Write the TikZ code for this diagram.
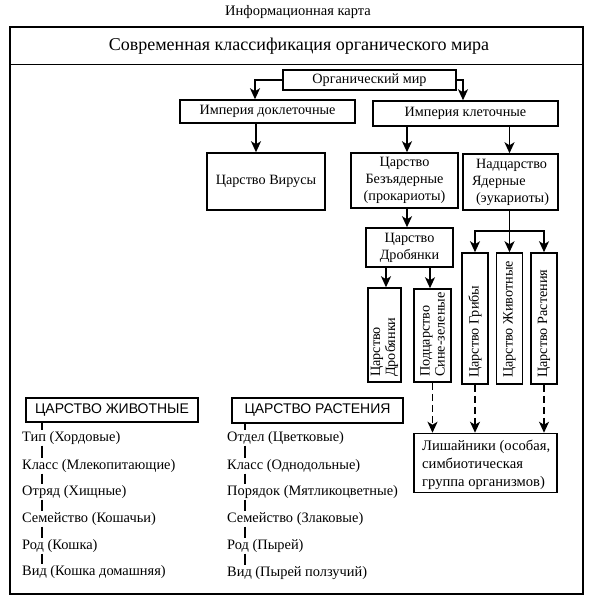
\documentclass[tikz,border=0pt]{standalone}
\usepackage{fontspec}
\setmainfont{Liberation Serif}
\newfontfamily\capsans{Liberation Sans}
\usetikzlibrary{arrows.meta,calc}
\begin{document}
\begin{tikzpicture}[x=1pt,y=-1pt,
  lw/.style={line width=1.5pt},
  box/.style={draw,lw,inner sep=0pt,align=center,font=\fontsize{14.2}{17}\selectfont},
  arr/.style={lw,-{Stealth[length=11pt,width=10pt,inset=3pt]}},
  dsh/.style={lw,dash pattern=on 7pt off 4pt,-{Stealth[length=11pt,width=10pt,inset=3pt]}},
  vtext/.style={rotate=90,anchor=west,inner sep=0pt,align=left,font=\fontsize{14.2}{15}\selectfont},
  item/.style={anchor=west,inner sep=1pt,font=\fontsize{14.4}{15}\selectfont},
  capbox/.style={draw,lw,inner sep=0pt,font=\capsans\fontsize{14}{15}\selectfont}]
\useasboundingbox (0,0) rectangle (596,604);

% title and frame
\node[font=\fontsize{14.5}{16}\selectfont] (title) at (298,12) {Информационная карта};
\draw[lw] (10,27) rectangle (583,594);
\draw[lw] (10,64.5) -- (583,64.5);
\node[font=\fontsize{18}{20}\selectfont] (hdr) at (299,46) {Современная классификация органического мира};

% boxes
\node[box,minimum width=173pt,minimum height=20pt] (org) at (369.5,80) {Органический мир};
\node[box,minimum width=175pt,minimum height=23pt] (dokl) at (267.5,111.5) {Империя доклеточные};
\node[box,minimum width=185pt,minimum height=25pt] (kl) at (465.5,113.5) {Империя клеточные};
\node[box,minimum width=118pt,minimum height=57pt] (virus) at (266,181.5) {Царство Вирусы};
\node[box,minimum width=107pt,minimum height=55pt] (bez) at (404.5,180.5) {Царство\\Безъядерные\\(прокариоты)};
\node[box,minimum width=95pt,minimum height=56pt,align=left] (yad) at (510.5,182) {\hspace*{4pt}Надцарство\\Ядерные\\\hspace*{4pt}(эукариоты)};
\node[box,minimum width=87pt,minimum height=39pt] (drob) at (409.5,247.5) {Царство\\Дробянки};

\node[draw,lw,minimum width=33pt,minimum height=94pt,inner sep=0pt] (v1) at (384.5,335) {};
\node[draw,lw,minimum width=37pt,minimum height=93pt,inner sep=0pt] (v2) at (432.5,335.5) {};
\node[draw,lw,minimum width=26pt,minimum height=131pt,inner sep=0pt] (gr) at (475,318.5) {};
\node[draw,lw,minimum width=26pt,minimum height=131pt,inner sep=0pt] (zh) at (509.5,318.5) {};
\node[draw,lw,minimum width=26pt,minimum height=131pt,inner sep=0pt] (ra) at (544,318.5) {};
\node[vtext] (v1t) at (384.5,377) {Царство\\Дробянки};
\node[vtext] (v2t) at (432.5,377) {Подцарство\\Сине-зеленые};
\node[vtext] (grt) at (475,378) {Царство Грибы};
\node[vtext] (zht) at (509.5,378) {Царство Животные};
\node[vtext] (rat) at (544,378) {Царство Растения};

\node[box,minimum width=143pt,minimum height=59pt] (lish) at (485.5,463) {};
\node[anchor=west,inner sep=0pt,align=left,font=\fontsize{14.6}{18}\selectfont] (lisht) at (422,465) {Лишайники (особая,\\симбиотическая\\группа организмов)};

% connectors
\draw[arr] (org.west) -| ([xshift=-12.5pt]dokl.north);
\draw[arr] (org.east) -| ([xshift=-2.5pt]kl.north);
\draw[arr] ([xshift=-10pt]virus.north |- dokl.south) -- ([xshift=-10pt]virus.north);
\draw[arr] ([xshift=2.5pt]bez.north |- kl.south) -- ([xshift=2.5pt]bez.north);
\draw[arr] ([xshift=-1pt]yad.north |- kl.south) -- ([xshift=-1pt]yad.north);
\draw[arr] ([xshift=-2.5pt]drob.north |- bez.south) -- ([xshift=-2.5pt]drob.north);
\draw[arr] ([xshift=1.5pt]v1.north |- drob.south) -- ([xshift=1.5pt]v1.north);
\draw[arr] ([xshift=-2.5pt]v2.north |- drob.south) -- ([xshift=-2.5pt]v2.north);
\coordinate (br) at ($(zh.north |- yad.south)+(0,20)$);
\draw[lw] (zh.north |- yad.south) -- (br);
\draw[arr] (br) -| (gr.north);
\draw[arr] (br) -| (ra.north);
\draw[arr] (br) -- (zh.north);
\draw[dsh] (v2.south) -- (v2.south |- lish.north);
\draw[dsh] (gr.south) -- (gr.south |- lish.north);
\draw[dsh] (ra.south) -- (ra.south |- lish.north);

% animals
\node[capbox,minimum width=172pt,minimum height=24pt] (kz) at (112,410) {ЦАРСТВО ЖИВОТНЫЕ};
\node[item] (a1) at (21,438) {Тип (Хордовые)};
\node[item] (a2) at (21,466) {Класс (Млекопитающие)};
\node[item] (a3) at (21,492) {Отряд (Хищные)};
\node[item] (a4) at (21,519) {Семейство (Кошачьи)};
\node[item] (a5) at (21,546) {Род (Кошка)};
\node[item] (a6) at (21,572) {Вид (Кошка домашняя)};
\coordinate (ax) at (42,0);
\draw[lw] (kz.south -| ax) -- (a1.north -| ax);
\foreach \p/\q in {a1/a2,a2/a3,a3/a4,a4/a5,a5/a6}
  \draw[lw] (\p.south -| ax) -- (\q.north -| ax);

% plants
\node[capbox,minimum width=171pt,minimum height=25pt] (kr) at (317.5,410.5) {ЦАРСТВО РАСТЕНИЯ};
\node[item] (b1) at (226,438) {Отдел (Цветковые)};
\node[item] (b2) at (226,466) {Класс (Однодольные)};
\node[item] (b3) at (226,492) {Порядок (Мятликоцветные)};
\node[item] (b4) at (226,519) {Семейство (Злаковые)};
\node[item] (b5) at (226,546) {Род (Пырей)};
\node[item] (b6) at (226,573) {Вид (Пырей ползучий)};
\coordinate (bx) at (245,0);
\draw[lw] (kr.south -| bx) -- (b1.north -| bx);
\foreach \p/\q in {b1/b2,b2/b3,b3/b4,b4/b5,b5/b6}
  \draw[lw] (\p.south -| bx) -- (\q.north -| bx);
\end{tikzpicture}
\end{document}
